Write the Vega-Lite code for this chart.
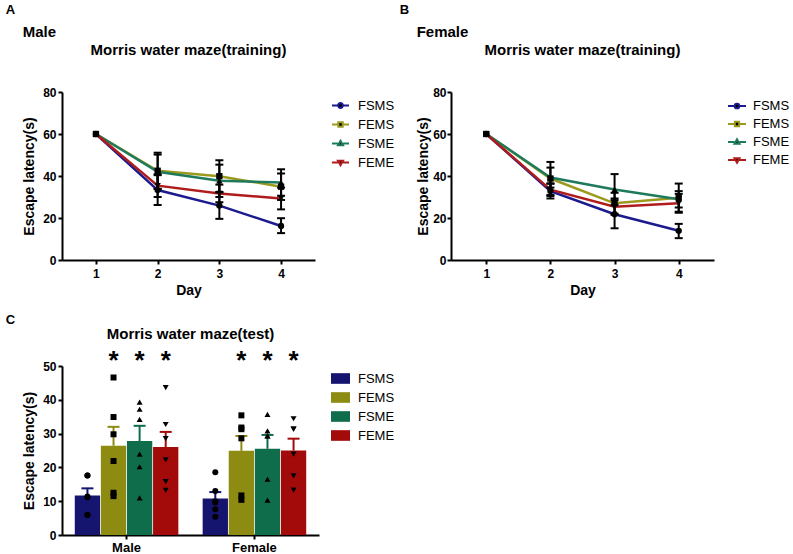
{
  "$schema": "https://vega.github.io/schema/vega-lite/v6.json",
  "padding": {"left": 5, "top": 4, "right": 2, "bottom": 2},
  "datasets": {
    "lines": [
      {"sex": "Male", "group": "FSMS", "day": 1, "mean": 60, "lo": null, "hi": null},
      {"sex": "Male", "group": "FSMS", "day": 2, "mean": 33.3, "lo": 26.2, "hi": 40.4},
      {"sex": "Male", "group": "FSMS", "day": 3, "mean": 25.9, "lo": 19.6, "hi": 32.2},
      {"sex": "Male", "group": "FSMS", "day": 4, "mean": 16.2, "lo": 12.8, "hi": 19.9},
      {"sex": "Male", "group": "FEMS", "day": 1, "mean": 60, "lo": null, "hi": null},
      {"sex": "Male", "group": "FEMS", "day": 2, "mean": 42.5, "lo": 33.9, "hi": 51.1},
      {"sex": "Male", "group": "FEMS", "day": 3, "mean": 39.9, "lo": 32.4, "hi": 47.5},
      {"sex": "Male", "group": "FEMS", "day": 4, "mean": 34.9, "lo": 28.6, "hi": 41.2},
      {"sex": "Male", "group": "FSME", "day": 1, "mean": 60, "lo": null, "hi": null},
      {"sex": "Male", "group": "FSME", "day": 2, "mean": 42.0, "lo": 33.8, "hi": 50.2},
      {"sex": "Male", "group": "FSME", "day": 3, "mean": 37.7, "lo": 30.0, "hi": 45.4},
      {"sex": "Male", "group": "FSME", "day": 4, "mean": 36.9, "lo": 30.6, "hi": 43.2},
      {"sex": "Male", "group": "FEME", "day": 1, "mean": 60, "lo": null, "hi": null},
      {"sex": "Male", "group": "FEME", "day": 2, "mean": 35.4, "lo": 30.0, "hi": 40.8},
      {"sex": "Male", "group": "FEME", "day": 3, "mean": 31.7, "lo": 27.5, "hi": 35.9},
      {"sex": "Male", "group": "FEME", "day": 4, "mean": 29.3, "lo": 24.1, "hi": 34.5},
      {"sex": "Female", "group": "FSMS", "day": 1, "mean": 60, "lo": null, "hi": null},
      {"sex": "Female", "group": "FSMS", "day": 2, "mean": 32.8, "lo": 29.3, "hi": 36.3},
      {"sex": "Female", "group": "FSMS", "day": 3, "mean": 21.8, "lo": 15.1, "hi": 28.5},
      {"sex": "Female", "group": "FSMS", "day": 4, "mean": 13.9, "lo": 10.4, "hi": 17.2},
      {"sex": "Female", "group": "FEMS", "day": 1, "mean": 60, "lo": null, "hi": null},
      {"sex": "Female", "group": "FEMS", "day": 2, "mean": 38.8, "lo": 31.0, "hi": 46.7},
      {"sex": "Female", "group": "FEMS", "day": 3, "mean": 27.0, "lo": 22.0, "hi": 32.0},
      {"sex": "Female", "group": "FEMS", "day": 4, "mean": 29.7, "lo": 23.0, "hi": 36.4},
      {"sex": "Female", "group": "FSME", "day": 1, "mean": 60, "lo": null, "hi": null},
      {"sex": "Female", "group": "FSME", "day": 2, "mean": 39.3, "lo": 34.5, "hi": 44.0},
      {"sex": "Female", "group": "FSME", "day": 3, "mean": 33.6, "lo": 26.3, "hi": 40.9},
      {"sex": "Female", "group": "FSME", "day": 4, "mean": 28.9, "lo": 25.0, "hi": 32.8},
      {"sex": "Female", "group": "FEME", "day": 1, "mean": 60, "lo": null, "hi": null},
      {"sex": "Female", "group": "FEME", "day": 2, "mean": 33.5, "lo": 30.5, "hi": 36.5},
      {"sex": "Female", "group": "FEME", "day": 3, "mean": 25.4, "lo": 21.5, "hi": 29.3},
      {"sex": "Female", "group": "FEME", "day": 4, "mean": 27.0, "lo": 22.5, "hi": 31.5}
    ],
    "bars": [
      {"sex": "Male", "group": "FSMS", "mean": 11.7, "upper": 13.8},
      {"sex": "Male", "group": "FEMS", "mean": 26.4, "upper": 32.0},
      {"sex": "Male", "group": "FSME", "mean": 27.8, "upper": 32.3},
      {"sex": "Male", "group": "FEME", "mean": 26.0, "upper": 30.5},
      {"sex": "Female", "group": "FSMS", "mean": 10.8, "upper": 12.7},
      {"sex": "Female", "group": "FEMS", "mean": 24.9, "upper": 29.3},
      {"sex": "Female", "group": "FSME", "mean": 25.5, "upper": 29.6},
      {"sex": "Female", "group": "FEME", "mean": 25.0, "upper": 28.5}
    ],
    "pts": [
      {"sex": "Male", "group": "FSMS", "value": 17.6},
      {"sex": "Male", "group": "FSMS", "value": 17.6},
      {"sex": "Male", "group": "FSMS", "value": 11.4},
      {"sex": "Male", "group": "FSMS", "value": 11.2},
      {"sex": "Male", "group": "FSMS", "value": 5.9},
      {"sex": "Male", "group": "FSMS", "value": 5.9},
      {"sex": "Male", "group": "FEMS", "value": 46.6},
      {"sex": "Male", "group": "FEMS", "value": 34.9},
      {"sex": "Male", "group": "FEMS", "value": 29.8},
      {"sex": "Male", "group": "FEMS", "value": 21.9},
      {"sex": "Male", "group": "FEMS", "value": 11.5},
      {"sex": "Male", "group": "FEMS", "value": 12.5},
      {"sex": "Male", "group": "FSME", "value": 39.3},
      {"sex": "Male", "group": "FSME", "value": 37.2},
      {"sex": "Male", "group": "FSME", "value": 34.2},
      {"sex": "Male", "group": "FSME", "value": 23.9},
      {"sex": "Male", "group": "FSME", "value": 20.2},
      {"sex": "Male", "group": "FSME", "value": 11.0},
      {"sex": "Male", "group": "FEME", "value": 43.6},
      {"sex": "Male", "group": "FEME", "value": 32.7},
      {"sex": "Male", "group": "FEME", "value": 28.5},
      {"sex": "Male", "group": "FEME", "value": 22.2},
      {"sex": "Male", "group": "FEME", "value": 15.8},
      {"sex": "Male", "group": "FEME", "value": 13.2},
      {"sex": "Female", "group": "FSMS", "value": 18.6},
      {"sex": "Female", "group": "FSMS", "value": 13.0},
      {"sex": "Female", "group": "FSMS", "value": 10.0},
      {"sex": "Female", "group": "FSMS", "value": 9.6},
      {"sex": "Female", "group": "FSMS", "value": 7.6},
      {"sex": "Female", "group": "FSMS", "value": 5.4},
      {"sex": "Female", "group": "FEMS", "value": 35.4},
      {"sex": "Female", "group": "FEMS", "value": 31.8},
      {"sex": "Female", "group": "FEMS", "value": 31.3},
      {"sex": "Female", "group": "FEMS", "value": 28.6},
      {"sex": "Female", "group": "FEMS", "value": 10.4},
      {"sex": "Female", "group": "FEMS", "value": 11.7},
      {"sex": "Female", "group": "FSME", "value": 35.7},
      {"sex": "Female", "group": "FSME", "value": 29.3},
      {"sex": "Female", "group": "FSME", "value": 29.3},
      {"sex": "Female", "group": "FSME", "value": 30.8},
      {"sex": "Female", "group": "FSME", "value": 16.5},
      {"sex": "Female", "group": "FSME", "value": 10.3},
      {"sex": "Female", "group": "FEME", "value": 34.4},
      {"sex": "Female", "group": "FEME", "value": 31.3},
      {"sex": "Female", "group": "FEME", "value": 31.3},
      {"sex": "Female", "group": "FEME", "value": 23.9},
      {"sex": "Female", "group": "FEME", "value": 17.5},
      {"sex": "Female", "group": "FEME", "value": 13.3}
    ]
  },
  "config": {
    "font": "Liberation Sans",
    "view": {"stroke": null},
    "axis": {
      "grid": false,
      "domainColor": "black",
      "domainWidth": 2,
      "tickColor": "black",
      "tickWidth": 2,
      "tickSize": 4,
      "labelFont": "Liberation Sans",
      "labelFontWeight": "bold",
      "labelFontSize": 12,
      "labelColor": "black",
      "labelPadding": 2,
      "titleFont": "Liberation Sans",
      "titleFontSize": 14,
      "titleFontWeight": "bold",
      "titleColor": "black"
    },
    "legend": {"labelFont": "Liberation Sans", "labelFontSize": 13, "labelColor": "black"},
    "title": {"font": "Liberation Sans", "fontWeight": "bold", "color": "black", "fontSize": 15}
  },
  "spacing": 16,
  "resolve": {
    "scale": {"color": "independent", "x": "independent", "y": "independent"},
    "legend": {"color": "independent"}
  },
  "vconcat": [
    {
      "spacing": 0,
      "resolve": {
        "scale": {"color": "independent", "x": "independent", "y": "independent"},
        "legend": {"color": "independent"}
      },
      "hconcat": [
        {
          "title": {"text": "A", "anchor": "start", "fontSize": 13, "dx": -17, "offset": 8},
          "resolve": {"scale": {"color": "independent"}, "legend": {"color": "independent"}},
          "vconcat": [
            {
              "title": {"text": "Male", "anchor": "start", "fontSize": 15, "offset": 3},
              "resolve": {"scale": {"color": "independent"}, "legend": {"color": "independent"}},
              "vconcat": [
                {
                  "title": {"text": "Morris water maze(training)", "anchor": "middle", "frame": "group", "offset": 28},
                  "width": 253,
                  "height": 168,
                  "data": {"name": "lines"},
                  "transform": [{"filter": "datum.sex === 'Male'"}],
                  "encoding": {
                    "x": {"field": "day", "type": "quantitative", "scale": {"domain": [0.45, 4.55]}, "axis": {"values": [1, 2, 3, 4], "format": "d", "title": "Day", "labelPadding": 4, "titlePadding": 4}}
                  },
                  "layer": [
                    {
                      "mark": {"type": "line", "strokeWidth": 2.5},
                      "encoding": {
                        "y": {"field": "mean", "type": "quantitative", "scale": {"domain": [0, 80]}, "axis": {"values": [0, 20, 40, 60, 80], "title": "Escape latency(s)", "titlePadding": 6}},
                        "color": {"field": "group", "type": "nominal", "scale": {"domain": ["FSMS", "FEMS", "FSME", "FEME"], "range": ["#1b1b8f", "#9c9a1e", "#1e7a5c", "#b01c1c"]},
                          "legend": {"title": null, "offset": 12, "padding": 4, "symbolType": "M-1,0H1", "symbolSize": 289, "symbolStrokeWidth": 2, "rowPadding": 2, "labelOffset": 8, "labelFontSize": 13,
                            "encode": {"symbols": {"update": {"fill": {"value": "black"}, "shape": {"signal": "datum.value === 'FSMS' ? 'M-1,0H-0.3M0.3,0H1M0.28,0A0.28,0.28,0,1,1,-0.28,0A0.28,0.28,0,1,1,0.28,0Z' : datum.value === 'FEMS' ? 'M-1,0H-0.3M0.3,0H1M-0.26,-0.26H0.26V0.26H-0.26Z' : datum.value === 'FSME' ? 'M-1,0H-0.3M0.3,0H1M0,-0.32L0.3,0.22H-0.3Z' : 'M-1,0H-0.3M0.3,0H1M0,0.32L0.3,-0.22H-0.3Z'"}}}}}
                        }
                      }
                    },
                    {
                      "mark": {"type": "rule", "color": "black", "strokeWidth": 2},
                      "encoding": {"y": {"field": "lo", "type": "quantitative"}, "y2": {"field": "hi"}}
                    },
                    {
                      "mark": {"type": "tick", "orient": "horizontal", "color": "black", "size": 8, "thickness": 2, "opacity": 1},
                      "encoding": {"y": {"field": "lo", "type": "quantitative"}}
                    },
                    {
                      "mark": {"type": "tick", "orient": "horizontal", "color": "black", "size": 8, "thickness": 2, "opacity": 1},
                      "encoding": {"y": {"field": "hi", "type": "quantitative"}}
                    },
                    {
                      "transform": [{"filter": "datum.group === 'FSMS'"}],
                      "mark": {"type": "point", "shape": "circle", "filled": true, "color": "black", "size": 40, "opacity": 1},
                      "encoding": {"y": {"field": "mean", "type": "quantitative"}}
                    },
                    {
                      "transform": [{"filter": "datum.group === 'FEMS'"}],
                      "mark": {"type": "point", "shape": "square", "filled": true, "color": "black", "size": 40, "opacity": 1},
                      "encoding": {"y": {"field": "mean", "type": "quantitative"}}
                    },
                    {
                      "transform": [{"filter": "datum.group === 'FSME'"}],
                      "mark": {"type": "point", "shape": "triangle-up", "filled": true, "color": "black", "size": 40, "opacity": 1},
                      "encoding": {"y": {"field": "mean", "type": "quantitative"}}
                    },
                    {
                      "transform": [{"filter": "datum.group === 'FEME'"}],
                      "mark": {"type": "point", "shape": "triangle-down", "filled": true, "color": "black", "size": 40, "opacity": 1},
                      "encoding": {"y": {"field": "mean", "type": "quantitative"}}
                    }
                  ]
                }
              ]
            }
          ]
        },
        {
          "title": {"text": "B", "anchor": "start", "fontSize": 13, "dx": -17, "offset": 8},
          "resolve": {"scale": {"color": "independent"}, "legend": {"color": "independent"}},
          "vconcat": [
            {
              "title": {"text": "Female", "anchor": "start", "fontSize": 15, "offset": 3},
              "resolve": {"scale": {"color": "independent"}, "legend": {"color": "independent"}},
              "vconcat": [
                {
                  "title": {"text": "Morris water maze(training)", "anchor": "middle", "frame": "group", "offset": 28},
                  "width": 263,
                  "height": 168,
                  "data": {"name": "lines"},
                  "transform": [{"filter": "datum.sex === 'Female'"}],
                  "encoding": {
                    "x": {"field": "day", "type": "quantitative", "scale": {"domain": [0.45, 4.55]}, "axis": {"values": [1, 2, 3, 4], "format": "d", "title": "Day", "labelPadding": 4, "titlePadding": 4}}
                  },
                  "layer": [
                    {
                      "mark": {"type": "line", "strokeWidth": 2.5},
                      "encoding": {
                        "y": {"field": "mean", "type": "quantitative", "scale": {"domain": [0, 80]}, "axis": {"values": [0, 20, 40, 60, 80], "title": "Escape latency(s)", "titlePadding": 2, "labelPadding": 1}},
                        "color": {"field": "group", "type": "nominal", "scale": {"domain": ["FSMS", "FEMS", "FSME", "FEME"], "range": ["#1b1b8f", "#9c9a1e", "#1e7a5c", "#b01c1c"]},
                          "legend": {"title": null, "offset": 9, "padding": 4, "symbolType": "M-1,0H1", "symbolSize": 324, "symbolStrokeWidth": 2, "rowPadding": 1, "labelOffset": 6, "labelFontSize": 13,
                            "encode": {"symbols": {"update": {"fill": {"value": "black"}, "shape": {"signal": "datum.value === 'FSMS' ? 'M-1,0H-0.28M0.28,0H1M0.26,0A0.26,0.26,0,1,1,-0.26,0A0.26,0.26,0,1,1,0.26,0Z' : datum.value === 'FEMS' ? 'M-1,0H-0.28M0.28,0H1M-0.24,-0.24H0.24V0.24H-0.24Z' : datum.value === 'FSME' ? 'M-1,0H-0.28M0.28,0H1M0,-0.3L0.28,0.2H-0.28Z' : 'M-1,0H-0.28M0.28,0H1M0,0.3L0.28,-0.2H-0.28Z'"}}}}}
                        }
                      }
                    },
                    {
                      "mark": {"type": "rule", "color": "black", "strokeWidth": 2},
                      "encoding": {"y": {"field": "lo", "type": "quantitative"}, "y2": {"field": "hi"}}
                    },
                    {
                      "mark": {"type": "tick", "orient": "horizontal", "color": "black", "size": 8, "thickness": 2, "opacity": 1},
                      "encoding": {"y": {"field": "lo", "type": "quantitative"}}
                    },
                    {
                      "mark": {"type": "tick", "orient": "horizontal", "color": "black", "size": 8, "thickness": 2, "opacity": 1},
                      "encoding": {"y": {"field": "hi", "type": "quantitative"}}
                    },
                    {
                      "transform": [{"filter": "datum.group === 'FSMS'"}],
                      "mark": {"type": "point", "shape": "circle", "filled": true, "color": "black", "size": 40, "opacity": 1},
                      "encoding": {"y": {"field": "mean", "type": "quantitative"}}
                    },
                    {
                      "transform": [{"filter": "datum.group === 'FEMS'"}],
                      "mark": {"type": "point", "shape": "square", "filled": true, "color": "black", "size": 40, "opacity": 1},
                      "encoding": {"y": {"field": "mean", "type": "quantitative"}}
                    },
                    {
                      "transform": [{"filter": "datum.group === 'FSME'"}],
                      "mark": {"type": "point", "shape": "triangle-up", "filled": true, "color": "black", "size": 40, "opacity": 1},
                      "encoding": {"y": {"field": "mean", "type": "quantitative"}}
                    },
                    {
                      "transform": [{"filter": "datum.group === 'FEME'"}],
                      "mark": {"type": "point", "shape": "triangle-down", "filled": true, "color": "black", "size": 40, "opacity": 1},
                      "encoding": {"y": {"field": "mean", "type": "quantitative"}}
                    }
                  ]
                }
              ]
            }
          ]
        }
      ]
    },
    {
      "title": {"text": "C", "anchor": "start", "fontSize": 13, "dx": -17, "offset": 0},
      "resolve": {"scale": {"color": "independent"}, "legend": {"color": "independent"}},
      "vconcat": [
        {
          "title": {"text": "Morris water maze(test)", "anchor": "middle", "frame": "group", "offset": 6},
          "width": 257,
          "height": 169,
          "encoding": {
            "x": {"field": "sex", "type": "nominal", "sort": ["Male", "Female"], "scale": {"paddingInner": 0.19, "paddingOuter": 0.1}, "axis": {"title": null, "labelAngle": 0, "labelFontSize": 13, "labelPadding": 2}},
            "xOffset": {"field": "group", "type": "nominal", "sort": ["FSMS", "FEMS", "FSME", "FEME"], "scale": {"paddingInner": 0.03, "paddingOuter": 0}}
          },
          "layer": [
            {
              "data": {"name": "bars"},
              "mark": {"type": "bar", "opacity": 1},
              "encoding": {
                "y": {"field": "mean", "type": "quantitative", "scale": {"domain": [0, 50]}, "axis": {"values": [0, 10, 20, 30, 40, 50], "title": "Escape latency(s)", "titlePadding": 6}},
                "color": {"field": "group", "type": "nominal", "sort": ["FSMS", "FEMS", "FSME", "FEME"], "scale": {"domain": ["FSMS", "FEMS", "FSME", "FEME"], "range": ["#15146e", "#8d8b12", "#0f6d4c", "#a30b0b"]}, "legend": {"title": null, "offset": 9, "padding": 3, "symbolType": "M-1,-0.56H1V0.56H-1Z", "symbolSize": 361, "symbolStrokeWidth": 0, "symbolOpacity": 1, "rowPadding": 2, "labelOffset": 8, "labelFontSize": 13}}
              }
            },
            {
              "data": {"name": "bars"},
              "mark": {"type": "rule", "strokeWidth": 2, "opacity": 1},
              "encoding": {
                "y": {"field": "mean", "type": "quantitative", "axis": {"values": [0, 10, 20, 30, 40, 50], "title": "Escape latency(s)", "titlePadding": 6}},
                "y2": {"field": "upper"},
                "color": {"field": "group", "type": "nominal"}
              }
            },
            {
              "data": {"name": "bars"},
              "mark": {"type": "tick", "orient": "horizontal", "size": 12, "thickness": 2, "opacity": 1},
              "encoding": {
                "y": {"field": "upper", "type": "quantitative", "axis": {"values": [0, 10, 20, 30, 40, 50], "title": "Escape latency(s)", "titlePadding": 6}},
                "color": {"field": "group", "type": "nominal"}
              }
            },
            {
              "data": {"name": "pts"},
              "transform": [{"filter": "datum.group === 'FSMS'"}],
              "mark": {"type": "point", "shape": "circle", "filled": true, "color": "black", "size": 36, "opacity": 1},
              "encoding": {"y": {"field": "value", "type": "quantitative", "axis": {"values": [0, 10, 20, 30, 40, 50], "title": "Escape latency(s)", "titlePadding": 6}}}
            },
            {
              "data": {"name": "pts"},
              "transform": [{"filter": "datum.group === 'FEMS'"}],
              "mark": {"type": "point", "shape": "square", "filled": true, "color": "black", "size": 36, "opacity": 1},
              "encoding": {"y": {"field": "value", "type": "quantitative", "axis": {"values": [0, 10, 20, 30, 40, 50], "title": "Escape latency(s)", "titlePadding": 6}}}
            },
            {
              "data": {"name": "pts"},
              "transform": [{"filter": "datum.group === 'FSME'"}],
              "mark": {"type": "point", "shape": "triangle-up", "filled": true, "color": "black", "size": 36, "opacity": 1},
              "encoding": {"y": {"field": "value", "type": "quantitative", "axis": {"values": [0, 10, 20, 30, 40, 50], "title": "Escape latency(s)", "titlePadding": 6}}}
            },
            {
              "data": {"name": "pts"},
              "transform": [{"filter": "datum.group === 'FEME'"}],
              "mark": {"type": "point", "shape": "triangle-down", "filled": true, "color": "black", "size": 36, "opacity": 1},
              "encoding": {"y": {"field": "value", "type": "quantitative", "axis": {"values": [0, 10, 20, 30, 40, 50], "title": "Escape latency(s)", "titlePadding": 6}}}
            },
            {
              "data": {"name": "bars"},
              "transform": [{"filter": "datum.group !== 'FSMS'"}],
              "mark": {"type": "text", "text": "*", "fontSize": 26, "fontWeight": "bold", "baseline": "middle", "color": "black"},
              "encoding": {"y": {"datum": 51.5, "type": "quantitative", "axis": {"values": [0, 10, 20, 30, 40, 50], "title": "Escape latency(s)", "titlePadding": 6}}}
            }
          ]
        }
      ]
    }
  ]
}
